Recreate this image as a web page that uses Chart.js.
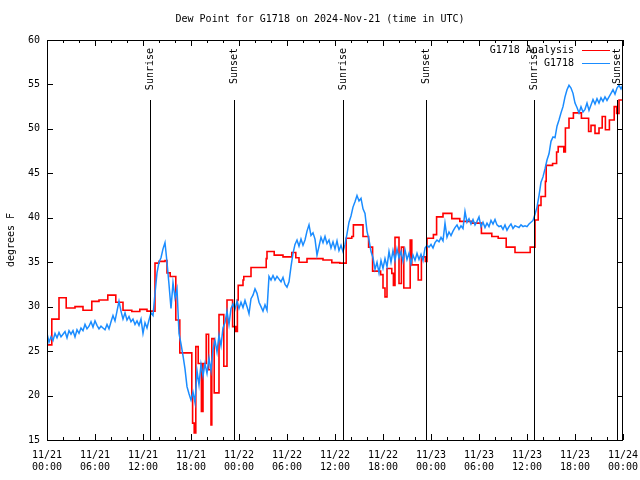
<!DOCTYPE html>
<html>
<head>
<meta charset="utf-8">
<script src="https://cdn.jsdelivr.net/npm/chart.js@4.4.1/dist/chart.umd.min.js"></script>
<style>
  html, body { margin: 0; padding: 0; background: #fff; }
  canvas { display: block; }
</style>
</head>
<body>
<canvas id="chart" width="640" height="480" style="width:640px;height:480px"></canvas>
<script>
// Hours since 11/21 00:00 UTC
const xTickHours = [0, 6, 12, 18, 24, 30, 36, 42, 48, 54, 60, 66, 72];
const xTickLabels = [
  ["11/21", "00:00"], ["11/21", "06:00"], ["11/21", "12:00"], ["11/21", "18:00"],
  ["11/22", "00:00"], ["11/22", "06:00"], ["11/22", "12:00"], ["11/22", "18:00"],
  ["11/23", "00:00"], ["11/23", "06:00"], ["11/23", "12:00"], ["11/23", "18:00"],
  ["11/24", "00:00"]
];
const yTicks = [15, 20, 25, 30, 35, 40, 45, 50, 55, 60];

// sunrise / sunset markers (hours)
const sunTimes = [12.875, 23.375, 37.0, 47.375, 60.875, 71.25];
const sunLabels = ["Sunrise", "Sunset", "Sunrise", "Sunset", "Sunrise", "Sunset"];

// G1718 Analysis (stepped): time the value starts, value
const analysisTimes = [
  0, 0.6, 1.5, 2.4, 3.5, 4.5, 5.6, 6.5, 7.6, 8.6, 9.5, 10.6, 11.6, 12.5,
  13.5, 14.0, 14.75, 15.0, 15.4, 16.1, 16.6, 18.1, 18.2, 18.4, 18.6, 18.9,
  19.3, 19.5, 19.9, 20.2, 20.5, 20.6, 20.9, 21.5, 22.1, 22.5, 23.2, 23.6,
  23.8, 23.9, 24.5, 24.6, 25.5, 27.4, 27.5, 28.4, 29.5, 30.6, 31.1, 31.5,
  32.5, 34.5, 35.6, 36.6, 37.4, 38.1, 38.3, 39.5, 40.2, 40.7, 41.7, 42.0,
  42.25, 42.5, 43.1, 43.3, 43.5, 44.0, 44.3, 44.6, 45.4, 45.6, 46.4, 46.8,
  47.3, 47.5, 48.3, 48.7, 49.5, 50.6, 51.6, 53.1, 54.3, 55.6, 56.4, 57.4,
  58.5, 60.4, 61.0, 61.4, 61.75, 62.3, 62.4, 63.2, 63.7, 63.9, 64.6, 64.8,
  65.25, 65.8, 66.8, 67.7, 68.0, 68.5, 69.0, 69.4, 69.8, 70.3, 70.9, 71.2,
  71.5, 72
];
const analysisValues = [
  25.7, 28.6, 31.0, 29.85, 30.0, 29.6, 30.6, 30.75, 31.3, 30.5, 29.6, 29.45, 29.7, 29.5,
  34.9, 35.1, 35.2, 33.8, 33.4, 28.5, 24.8, 19.9, 16.9, 15.8, 25.5, 23.6,
  18.2, 23.6, 26.9, 22.9, 16.7, 26.4, 20.3, 29.1, 23.3, 30.75, 27.75, 27.2,
  30.75, 32.4, 33.0, 33.4, 34.4, 35.4, 36.2, 35.8, 35.6, 36.1, 35.5, 35.0,
  35.4, 35.25, 34.95, 34.9, 37.7, 37.9, 39.2, 37.9, 36.7, 34.0, 33.6, 32.1,
  31.1, 34.3, 33.75, 32.4, 37.8, 32.6, 36.7, 32.1, 37.5, 34.7, 33.0, 35.6,
  35.1, 37.7, 38.1, 40.1, 40.5, 39.9, 39.6, 39.4, 38.25, 37.9, 37.7, 36.7,
  36.1, 36.7, 39.75, 41.4, 42.4, 44.1, 45.9, 46.1, 47.4, 48.0, 47.4, 50.1,
  51.2, 51.8, 51.2, 49.7, 50.4, 49.5, 50.1, 51.4, 49.9, 51.0, 52.5, 51.75,
  53.25, 53.0
];

// G1718 observations, one reading every 15 minutes from 11/21 00:00
const obsStepHours = 0.25;
const obsValues = [
  27.0, 26.0, 26.6, 26.2, 27.0, 26.5, 27.1, 26.6, 26.9, 27.2, 26.5, 27.3, 26.9,
  27.3, 26.6, 27.4, 27.0, 27.6, 27.3, 28.0, 27.5, 27.8, 28.3, 27.7, 28.4,
  27.9, 27.5, 27.8, 27.6, 27.4, 28.0, 27.5, 28.3, 29.0, 28.4, 29.5, 30.6,
  29.5, 28.6, 29.3, 28.5, 28.9, 28.3, 28.6, 28.0, 28.4, 27.9, 28.6, 27.0,
  28.2, 27.6, 28.5, 29.3, 29.0, 31.5, 33.8, 35.0, 35.5, 36.5, 37.2, 35.0,
  32.5, 29.8, 32.7, 31.0, 32.0, 27.0, 25.8, 24.5, 23.0, 21.0, 20.2, 19.5,
  20.4, 19.2, 22.8, 21.2, 23.5, 22.2, 23.6, 22.5, 24.2, 22.8, 25.2, 26.2,
  24.9, 26.8, 25.6, 27.6, 28.2, 29.5, 28.0, 29.8, 30.3, 29.7, 30.6, 29.8,
  30.5, 29.9, 30.7, 30.0, 29.2, 30.9, 31.3, 32.0, 31.5, 30.5, 30.0, 29.5,
  30.2, 29.6, 33.4, 33.0, 33.5, 33.0, 33.4, 33.1, 32.8, 33.3, 32.5, 32.2,
  32.8, 34.5, 36.0, 37.0, 37.5, 36.8, 37.6, 36.9, 37.5, 38.5, 39.2, 38.0,
  38.3, 37.6, 35.8, 36.8, 37.8, 37.2, 37.9, 37.1, 37.5, 36.6, 37.3, 36.5,
  37.4, 36.3, 36.9, 36.2, 37.0, 38.2, 39.5, 40.2, 41.2, 41.8, 42.5, 41.9,
  42.2, 41.0, 40.5, 38.5, 37.5, 36.2, 35.5, 34.2, 35.0, 33.8, 35.2, 34.3,
  35.4, 34.5, 36.2, 35.0, 36.3, 35.2, 36.5, 35.5, 36.2, 35.1, 36.4, 35.3,
  36.0, 34.8, 35.8, 35.2, 36.0, 35.3, 35.9, 35.2, 36.6, 36.9, 36.7, 37.0,
  36.6, 37.2, 37.5, 37.3, 37.8, 37.4, 39.4, 37.8, 38.4, 38.0, 38.5, 38.9,
  39.2, 38.7, 39.1, 38.8, 40.7, 39.5, 39.9, 39.3, 39.8, 39.2, 39.6, 40.1,
  39.0, 39.5, 38.9, 39.4, 39.0, 39.7, 39.3, 39.8, 39.2, 39.0, 39.1, 38.7,
  39.2, 38.6, 39.0, 39.3, 38.8, 39.1, 39.0, 38.9, 39.2, 39.0, 39.1, 39.0,
  39.3, 39.5, 39.7, 40.4, 41.2, 42.5, 44.0, 44.6, 45.5, 46.5, 47.2, 48.6,
  49.1, 49.0, 50.3, 51.0, 51.8, 52.5, 53.6, 54.4, 54.9, 54.6, 54.0, 52.9,
  52.4, 51.8, 52.5, 51.9, 52.2, 52.9, 52.1, 52.7, 53.3, 52.8, 53.4, 52.9,
  53.5, 53.1, 53.6, 53.2, 53.6, 54.0, 54.4, 53.9, 54.6, 54.9, 54.5, 55.0
];

const FONT = "DejaVu Sans Mono";
const RED = "#ff0000";
const BLUE = "#1a8cff";

const analysisPoints = analysisTimes.map((t, i) => ({ x: t, y: analysisValues[i] }));
const obsPoints = obsValues.map((v, i) => ({ x: i * obsStepHours, y: v }));

// gnuplot-like frame, ticks, sun markers, title and legend
const frame = {
  id: "frame",
  afterDatasetsDraw(chart) {
    const ctx = chart.ctx;
    const a = chart.chartArea;
    const xs = chart.scales.x, ys = chart.scales.y;
    ctx.save();
    ctx.strokeStyle = "#000";
    ctx.lineWidth = 1;

    // sunrise / sunset lines
    sunTimes.forEach((t) => {
      const px = Math.round(xs.getPixelForValue(t)) + 0.5;
      ctx.beginPath();
      ctx.moveTo(px, 100);
      ctx.lineTo(px, a.bottom);
      ctx.stroke();
    });

    // border
    ctx.strokeRect(Math.round(a.left) + 0.5, Math.round(a.top) + 0.5,
      Math.round(a.right - a.left) - 1, Math.round(a.bottom - a.top));

    // x ticks (major every 6h, minor every 2h), bottom and top
    ctx.beginPath();
    for (let h = 0; h <= 72; h += 2) {
      const px = Math.round(xs.getPixelForValue(h)) + 0.5;
      const len = h % 6 === 0 ? 6 : 3;
      ctx.moveTo(px, a.bottom); ctx.lineTo(px, a.bottom - len);
      ctx.moveTo(px, a.top); ctx.lineTo(px, a.top + len);
    }
    // y ticks, left and right
    yTicks.forEach((v) => {
      const py = Math.round(ys.getPixelForValue(v)) + 0.5;
      ctx.moveTo(a.left, py); ctx.lineTo(a.left + 6, py);
      ctx.moveTo(a.right, py); ctx.lineTo(a.right - 6, py);
    });
    ctx.stroke();

    ctx.fillStyle = "#000";
    ctx.font = "10px '" + FONT + "'";

    // sun labels, vertical
    sunTimes.forEach((t, i) => {
      const px = xs.getPixelForValue(t);
      ctx.save();
      ctx.translate(px, 48);
      ctx.rotate(-Math.PI / 2);
      ctx.textAlign = "right";
      ctx.textBaseline = "middle";
      ctx.fillText(sunLabels[i], 0, 0);
      ctx.restore();
    });

    // title
    ctx.textAlign = "center";
    ctx.textBaseline = "middle";
    ctx.fillText("Dew Point for G1718 on 2024-Nov-21 (time in UTC)", 320, 19);

    // y axis title
    ctx.save();
    ctx.translate(11, 240);
    ctx.rotate(-Math.PI / 2);
    ctx.fillText("degrees F", 0, 0);
    ctx.restore();

    // legend
    const legend = [["G1718 Analysis", RED], ["G1718", BLUE]];
    legend.forEach((row, i) => {
      const y = 50 + i * 13;
      ctx.textAlign = "right";
      ctx.fillStyle = "#000";
      ctx.fillText(row[0], 574, y);
      ctx.strokeStyle = row[1];
      ctx.lineWidth = 1;
      ctx.beginPath();
      ctx.moveTo(582, Math.round(y) + 0.5);
      ctx.lineTo(610, Math.round(y) + 0.5);
      ctx.stroke();
    });
    ctx.restore();
  }
};

new Chart(document.getElementById("chart"), {
  type: "scatter",
  data: {
    datasets: [
      {
        label: "G1718 Analysis",
        data: analysisPoints,
        showLine: true,
        stepped: true,
        borderColor: RED,
        borderWidth: 1.6,
        pointRadius: 0,
        order: 1
      },
      {
        label: "G1718",
        data: obsPoints,
        showLine: true,
        borderColor: BLUE,
        borderWidth: 1.5,
        pointRadius: 0,
        order: 0
      }
    ]
  },
  options: {
    responsive: false,
    animation: false,
    events: [],
    layout: { padding: { top: 40, right: 17, left: 0, bottom: 0 } },
    plugins: {
      legend: { display: false },
      tooltip: { enabled: false }
    },
    scales: {
      x: {
        type: "linear",
        min: 0,
        max: 72,
        afterBuildTicks: (s) => { s.ticks = xTickHours.map((v) => ({ value: v })); },
        afterFit: (s) => { s.height = 40; s.paddingLeft = 0; s.paddingRight = 0; },
        grid: { display: false, drawTicks: false },
        border: { display: false },
        ticks: {
          autoSkip: false,
          maxRotation: 0,
          padding: 9,
          color: "#000",
          font: { family: FONT, size: 10 },
          callback: (v, i) => xTickLabels[i]
        }
      },
      y: {
        min: 15,
        max: 60,
        afterBuildTicks: (s) => { s.ticks = yTicks.map((v) => ({ value: v })); },
        afterFit: (s) => { s.width = 47; s.paddingTop = 0; s.paddingBottom = 0; },
        grid: { display: false, drawTicks: false },
        border: { display: false },
        ticks: {
          padding: 7,
          color: "#000",
          font: { family: FONT, size: 10 },
          callback: (v) => String(v)
        }
      }
    }
  },
  plugins: [frame]
});
</script>
</body>
</html>
